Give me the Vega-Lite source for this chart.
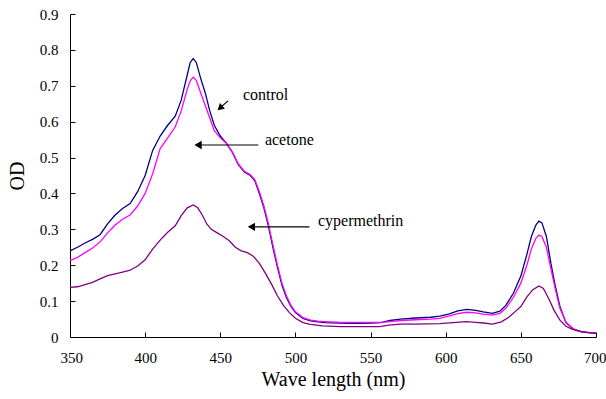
{
  "$schema": "https://vega.github.io/schema/vega-lite/v6.json",
  "width": 526,
  "height": 323,
  "autosize": {"type": "none"},
  "padding": {"left": 70, "top": 14, "right": 10, "bottom": 62},
  "background": "white",
  "config": {
    "view": {"stroke": null},
    "style": {
      "guide-label": {"font": "Liberation Serif", "fontSize": 15, "fill": "black"},
      "guide-title": {"font": "Liberation Serif", "fontSize": 20, "fontWeight": "normal", "fill": "black"}
    }
  },
  "datasets": {
    "spectra": [
      {"nm": 350, "od": 0.240, "sample": "control"},
      {"nm": 355, "od": 0.250, "sample": "control"},
      {"nm": 360, "od": 0.262, "sample": "control"},
      {"nm": 365, "od": 0.272, "sample": "control"},
      {"nm": 370, "od": 0.285, "sample": "control"},
      {"nm": 375, "od": 0.315, "sample": "control"},
      {"nm": 380, "od": 0.340, "sample": "control"},
      {"nm": 385, "od": 0.358, "sample": "control"},
      {"nm": 390, "od": 0.372, "sample": "control"},
      {"nm": 395, "od": 0.405, "sample": "control"},
      {"nm": 400, "od": 0.450, "sample": "control"},
      {"nm": 405, "od": 0.520, "sample": "control"},
      {"nm": 410, "od": 0.560, "sample": "control"},
      {"nm": 415, "od": 0.590, "sample": "control"},
      {"nm": 420, "od": 0.615, "sample": "control"},
      {"nm": 424, "od": 0.660, "sample": "control"},
      {"nm": 428, "od": 0.730, "sample": "control"},
      {"nm": 430, "od": 0.765, "sample": "control"},
      {"nm": 432, "od": 0.776, "sample": "control"},
      {"nm": 434, "od": 0.765, "sample": "control"},
      {"nm": 437, "od": 0.720, "sample": "control"},
      {"nm": 440, "od": 0.680, "sample": "control"},
      {"nm": 443, "od": 0.630, "sample": "control"},
      {"nm": 446, "od": 0.590, "sample": "control"},
      {"nm": 450, "od": 0.560, "sample": "control"},
      {"nm": 454, "od": 0.540, "sample": "control"},
      {"nm": 458, "od": 0.515, "sample": "control"},
      {"nm": 462, "od": 0.480, "sample": "control"},
      {"nm": 466, "od": 0.460, "sample": "control"},
      {"nm": 470, "od": 0.450, "sample": "control"},
      {"nm": 473, "od": 0.435, "sample": "control"},
      {"nm": 476, "od": 0.400, "sample": "control"},
      {"nm": 479, "od": 0.360, "sample": "control"},
      {"nm": 482, "od": 0.310, "sample": "control"},
      {"nm": 485, "od": 0.250, "sample": "control"},
      {"nm": 488, "od": 0.195, "sample": "control"},
      {"nm": 491, "od": 0.145, "sample": "control"},
      {"nm": 494, "od": 0.110, "sample": "control"},
      {"nm": 497, "od": 0.085, "sample": "control"},
      {"nm": 500, "od": 0.068, "sample": "control"},
      {"nm": 505, "od": 0.052, "sample": "control"},
      {"nm": 510, "od": 0.045, "sample": "control"},
      {"nm": 515, "od": 0.042, "sample": "control"},
      {"nm": 520, "od": 0.040, "sample": "control"},
      {"nm": 530, "od": 0.039, "sample": "control"},
      {"nm": 540, "od": 0.038, "sample": "control"},
      {"nm": 550, "od": 0.039, "sample": "control"},
      {"nm": 557, "od": 0.040, "sample": "control"},
      {"nm": 563, "od": 0.046, "sample": "control"},
      {"nm": 570, "od": 0.050, "sample": "control"},
      {"nm": 580, "od": 0.053, "sample": "control"},
      {"nm": 590, "od": 0.055, "sample": "control"},
      {"nm": 596, "od": 0.058, "sample": "control"},
      {"nm": 602, "od": 0.064, "sample": "control"},
      {"nm": 608, "od": 0.073, "sample": "control"},
      {"nm": 614, "od": 0.077, "sample": "control"},
      {"nm": 620, "od": 0.074, "sample": "control"},
      {"nm": 625, "od": 0.070, "sample": "control"},
      {"nm": 631, "od": 0.066, "sample": "control"},
      {"nm": 636, "od": 0.072, "sample": "control"},
      {"nm": 640, "od": 0.088, "sample": "control"},
      {"nm": 645, "od": 0.122, "sample": "control"},
      {"nm": 650, "od": 0.170, "sample": "control"},
      {"nm": 654, "od": 0.230, "sample": "control"},
      {"nm": 657, "od": 0.280, "sample": "control"},
      {"nm": 660, "od": 0.312, "sample": "control"},
      {"nm": 662, "od": 0.323, "sample": "control"},
      {"nm": 664, "od": 0.318, "sample": "control"},
      {"nm": 667, "od": 0.280, "sample": "control"},
      {"nm": 670, "od": 0.205, "sample": "control"},
      {"nm": 673, "od": 0.140, "sample": "control"},
      {"nm": 676, "od": 0.085, "sample": "control"},
      {"nm": 680, "od": 0.040, "sample": "control"},
      {"nm": 685, "od": 0.022, "sample": "control"},
      {"nm": 690, "od": 0.015, "sample": "control"},
      {"nm": 695, "od": 0.012, "sample": "control"},
      {"nm": 700, "od": 0.011, "sample": "control"},

      {"nm": 350, "od": 0.213, "sample": "acetone"},
      {"nm": 355, "od": 0.222, "sample": "acetone"},
      {"nm": 360, "od": 0.235, "sample": "acetone"},
      {"nm": 365, "od": 0.248, "sample": "acetone"},
      {"nm": 370, "od": 0.265, "sample": "acetone"},
      {"nm": 375, "od": 0.290, "sample": "acetone"},
      {"nm": 380, "od": 0.312, "sample": "acetone"},
      {"nm": 385, "od": 0.328, "sample": "acetone"},
      {"nm": 390, "od": 0.340, "sample": "acetone"},
      {"nm": 395, "od": 0.365, "sample": "acetone"},
      {"nm": 400, "od": 0.400, "sample": "acetone"},
      {"nm": 405, "od": 0.455, "sample": "acetone"},
      {"nm": 410, "od": 0.525, "sample": "acetone"},
      {"nm": 415, "od": 0.555, "sample": "acetone"},
      {"nm": 420, "od": 0.585, "sample": "acetone"},
      {"nm": 424, "od": 0.630, "sample": "acetone"},
      {"nm": 428, "od": 0.690, "sample": "acetone"},
      {"nm": 430, "od": 0.714, "sample": "acetone"},
      {"nm": 432, "od": 0.724, "sample": "acetone"},
      {"nm": 434, "od": 0.715, "sample": "acetone"},
      {"nm": 437, "od": 0.680, "sample": "acetone"},
      {"nm": 440, "od": 0.645, "sample": "acetone"},
      {"nm": 443, "od": 0.610, "sample": "acetone"},
      {"nm": 446, "od": 0.575, "sample": "acetone"},
      {"nm": 450, "od": 0.555, "sample": "acetone"},
      {"nm": 454, "od": 0.540, "sample": "acetone"},
      {"nm": 458, "od": 0.515, "sample": "acetone"},
      {"nm": 462, "od": 0.482, "sample": "acetone"},
      {"nm": 466, "od": 0.462, "sample": "acetone"},
      {"nm": 470, "od": 0.452, "sample": "acetone"},
      {"nm": 473, "od": 0.438, "sample": "acetone"},
      {"nm": 476, "od": 0.405, "sample": "acetone"},
      {"nm": 479, "od": 0.365, "sample": "acetone"},
      {"nm": 482, "od": 0.315, "sample": "acetone"},
      {"nm": 485, "od": 0.257, "sample": "acetone"},
      {"nm": 488, "od": 0.200, "sample": "acetone"},
      {"nm": 491, "od": 0.150, "sample": "acetone"},
      {"nm": 494, "od": 0.115, "sample": "acetone"},
      {"nm": 497, "od": 0.088, "sample": "acetone"},
      {"nm": 500, "od": 0.070, "sample": "acetone"},
      {"nm": 505, "od": 0.054, "sample": "acetone"},
      {"nm": 510, "od": 0.047, "sample": "acetone"},
      {"nm": 515, "od": 0.044, "sample": "acetone"},
      {"nm": 520, "od": 0.043, "sample": "acetone"},
      {"nm": 530, "od": 0.041, "sample": "acetone"},
      {"nm": 540, "od": 0.041, "sample": "acetone"},
      {"nm": 550, "od": 0.041, "sample": "acetone"},
      {"nm": 557, "od": 0.041, "sample": "acetone"},
      {"nm": 563, "od": 0.043, "sample": "acetone"},
      {"nm": 570, "od": 0.046, "sample": "acetone"},
      {"nm": 580, "od": 0.048, "sample": "acetone"},
      {"nm": 590, "od": 0.050, "sample": "acetone"},
      {"nm": 596, "od": 0.052, "sample": "acetone"},
      {"nm": 602, "od": 0.058, "sample": "acetone"},
      {"nm": 608, "od": 0.065, "sample": "acetone"},
      {"nm": 614, "od": 0.069, "sample": "acetone"},
      {"nm": 620, "od": 0.067, "sample": "acetone"},
      {"nm": 625, "od": 0.064, "sample": "acetone"},
      {"nm": 631, "od": 0.061, "sample": "acetone"},
      {"nm": 636, "od": 0.066, "sample": "acetone"},
      {"nm": 640, "od": 0.080, "sample": "acetone"},
      {"nm": 645, "od": 0.110, "sample": "acetone"},
      {"nm": 650, "od": 0.150, "sample": "acetone"},
      {"nm": 654, "od": 0.200, "sample": "acetone"},
      {"nm": 657, "od": 0.245, "sample": "acetone"},
      {"nm": 660, "od": 0.275, "sample": "acetone"},
      {"nm": 662, "od": 0.284, "sample": "acetone"},
      {"nm": 664, "od": 0.280, "sample": "acetone"},
      {"nm": 667, "od": 0.250, "sample": "acetone"},
      {"nm": 670, "od": 0.190, "sample": "acetone"},
      {"nm": 673, "od": 0.132, "sample": "acetone"},
      {"nm": 676, "od": 0.080, "sample": "acetone"},
      {"nm": 680, "od": 0.042, "sample": "acetone"},
      {"nm": 685, "od": 0.022, "sample": "acetone"},
      {"nm": 690, "od": 0.015, "sample": "acetone"},
      {"nm": 695, "od": 0.012, "sample": "acetone"},
      {"nm": 700, "od": 0.010, "sample": "acetone"},

      {"nm": 350, "od": 0.138, "sample": "cypermethrin"},
      {"nm": 355, "od": 0.140, "sample": "cypermethrin"},
      {"nm": 360, "od": 0.146, "sample": "cypermethrin"},
      {"nm": 365, "od": 0.152, "sample": "cypermethrin"},
      {"nm": 370, "od": 0.162, "sample": "cypermethrin"},
      {"nm": 375, "od": 0.171, "sample": "cypermethrin"},
      {"nm": 380, "od": 0.176, "sample": "cypermethrin"},
      {"nm": 385, "od": 0.181, "sample": "cypermethrin"},
      {"nm": 390, "od": 0.186, "sample": "cypermethrin"},
      {"nm": 395, "od": 0.198, "sample": "cypermethrin"},
      {"nm": 400, "od": 0.215, "sample": "cypermethrin"},
      {"nm": 405, "od": 0.245, "sample": "cypermethrin"},
      {"nm": 410, "od": 0.270, "sample": "cypermethrin"},
      {"nm": 415, "od": 0.292, "sample": "cypermethrin"},
      {"nm": 420, "od": 0.310, "sample": "cypermethrin"},
      {"nm": 424, "od": 0.338, "sample": "cypermethrin"},
      {"nm": 428, "od": 0.360, "sample": "cypermethrin"},
      {"nm": 432, "od": 0.368, "sample": "cypermethrin"},
      {"nm": 435, "od": 0.360, "sample": "cypermethrin"},
      {"nm": 438, "od": 0.340, "sample": "cypermethrin"},
      {"nm": 441, "od": 0.315, "sample": "cypermethrin"},
      {"nm": 444, "od": 0.300, "sample": "cypermethrin"},
      {"nm": 448, "od": 0.290, "sample": "cypermethrin"},
      {"nm": 452, "od": 0.280, "sample": "cypermethrin"},
      {"nm": 456, "od": 0.268, "sample": "cypermethrin"},
      {"nm": 460, "od": 0.250, "sample": "cypermethrin"},
      {"nm": 464, "od": 0.240, "sample": "cypermethrin"},
      {"nm": 468, "od": 0.235, "sample": "cypermethrin"},
      {"nm": 472, "od": 0.225, "sample": "cypermethrin"},
      {"nm": 476, "od": 0.205, "sample": "cypermethrin"},
      {"nm": 480, "od": 0.178, "sample": "cypermethrin"},
      {"nm": 484, "od": 0.148, "sample": "cypermethrin"},
      {"nm": 488, "od": 0.115, "sample": "cypermethrin"},
      {"nm": 492, "od": 0.088, "sample": "cypermethrin"},
      {"nm": 496, "od": 0.068, "sample": "cypermethrin"},
      {"nm": 500, "od": 0.052, "sample": "cypermethrin"},
      {"nm": 505, "od": 0.040, "sample": "cypermethrin"},
      {"nm": 510, "od": 0.035, "sample": "cypermethrin"},
      {"nm": 518, "od": 0.031, "sample": "cypermethrin"},
      {"nm": 530, "od": 0.029, "sample": "cypermethrin"},
      {"nm": 540, "od": 0.029, "sample": "cypermethrin"},
      {"nm": 550, "od": 0.029, "sample": "cypermethrin"},
      {"nm": 556, "od": 0.029, "sample": "cypermethrin"},
      {"nm": 562, "od": 0.033, "sample": "cypermethrin"},
      {"nm": 570, "od": 0.036, "sample": "cypermethrin"},
      {"nm": 580, "od": 0.036, "sample": "cypermethrin"},
      {"nm": 596, "od": 0.037, "sample": "cypermethrin"},
      {"nm": 605, "od": 0.040, "sample": "cypermethrin"},
      {"nm": 614, "od": 0.043, "sample": "cypermethrin"},
      {"nm": 620, "od": 0.041, "sample": "cypermethrin"},
      {"nm": 625, "od": 0.039, "sample": "cypermethrin"},
      {"nm": 631, "od": 0.036, "sample": "cypermethrin"},
      {"nm": 637, "od": 0.042, "sample": "cypermethrin"},
      {"nm": 642, "od": 0.055, "sample": "cypermethrin"},
      {"nm": 646, "od": 0.070, "sample": "cypermethrin"},
      {"nm": 650, "od": 0.085, "sample": "cypermethrin"},
      {"nm": 654, "od": 0.112, "sample": "cypermethrin"},
      {"nm": 658, "od": 0.132, "sample": "cypermethrin"},
      {"nm": 662, "od": 0.142, "sample": "cypermethrin"},
      {"nm": 665, "od": 0.135, "sample": "cypermethrin"},
      {"nm": 669, "od": 0.103, "sample": "cypermethrin"},
      {"nm": 672, "od": 0.075, "sample": "cypermethrin"},
      {"nm": 676, "od": 0.047, "sample": "cypermethrin"},
      {"nm": 680, "od": 0.030, "sample": "cypermethrin"},
      {"nm": 684, "od": 0.022, "sample": "cypermethrin"},
      {"nm": 690, "od": 0.015, "sample": "cypermethrin"},
      {"nm": 695, "od": 0.012, "sample": "cypermethrin"},
      {"nm": 700, "od": 0.011, "sample": "cypermethrin"}
    ],
    "labels": [
      {"nm": 465.1, "od": 0.674, "text": "control"},
      {"nm": 479.7, "od": 0.549, "text": "acetone"},
      {"nm": 515.0, "od": 0.323, "text": "cypermethrin"}
    ],
    "hlines": [
      {"nm": 475.3, "nm2": 434.0, "od": 0.535},
      {"nm": 509.3, "nm2": 469.5, "od": 0.307}
    ],
    "hheads": [
      {"nm": 435.2, "od": 0.535},
      {"nm": 470.7, "od": 0.307}
    ],
    "dline": [
      {"nm": 455.2, "nm2": 450.0, "od": 0.658, "od2": 0.639}
    ],
    "dhead": [
      {"nm": 449.8, "od": 0.638}
    ]
  },
  "encoding": {
    "x": {"field": "nm", "type": "quantitative",
      "scale": {"domain": [350, 700], "nice": false, "zero": false},
      "axis": {"values": [350, 400, 450, 500, 550, 600, 650, 700], "title": "Wave length (nm)",
        "grid": false, "domainColor": "black", "tickColor": "black", "labelColor": "black",
        "labelFont": "Liberation Serif", "labelFontSize": 15, "labelPadding": 18, "tickSize": -5,
        "labelFlush": true, "labelFlushOffset": 10, "labelOverlap": false,
        "titlePadding": 4}},
    "y": {"field": "od", "type": "quantitative",
      "scale": {"domain": [0, 0.9], "nice": false},
      "axis": {"values": [0, 0.1, 0.2, 0.3, 0.4, 0.5, 0.6, 0.7, 0.8, 0.9], "title": "OD",
        "grid": false, "domainColor": "black", "tickColor": "black", "labelColor": "black",
        "labelFont": "Liberation Serif", "labelFontSize": 15, "labelPadding": 17, "tickSize": -5,
        "labelOverlap": false, "labelFlush": false,
        "labelExpr": "datum.value == 0 ? '0' : format(datum.value, '.1f')",
        "titlePadding": 12}}
  },
  "layer": [
    {
      "data": {"name": "spectra"},
      "transform": [{"filter": "datum.sample == 'control'"}],
      "mark": {"type": "line", "color": "#000080", "strokeWidth": 1.3}
    },
    {
      "data": {"name": "spectra"},
      "transform": [{"filter": "datum.sample == 'acetone'"}],
      "mark": {"type": "line", "color": "#FF00FF", "strokeWidth": 1.3}
    },
    {
      "data": {"name": "spectra"},
      "transform": [{"filter": "datum.sample == 'cypermethrin'"}],
      "mark": {"type": "line", "color": "#800080", "strokeWidth": 1.3}
    },
    {
      "data": {"name": "labels"},
      "mark": {"type": "text", "align": "left", "baseline": "middle", "font": "Liberation Serif", "fontSize": 16, "color": "black"},
      "encoding": {"text": {"field": "text"}}
    },
    {
      "data": {"name": "hlines"},
      "mark": {"type": "rule", "color": "black", "strokeWidth": 1.2},
      "encoding": {"x2": {"field": "nm2"}}
    },
    {
      "data": {"name": "hheads"},
      "mark": {"type": "point", "shape": "triangle-left", "filled": true, "color": "black", "size": 70, "opacity": 1}
    },
    {
      "data": {"name": "dline"},
      "mark": {"type": "rule", "color": "black", "strokeWidth": 1.2},
      "encoding": {"x2": {"field": "nm2"}, "y2": {"field": "od2"}}
    },
    {
      "data": {"name": "dhead"},
      "mark": {"type": "point", "shape": "triangle-up", "angle": 229, "filled": true, "color": "black", "size": 55, "opacity": 1}
    }
  ]
}
